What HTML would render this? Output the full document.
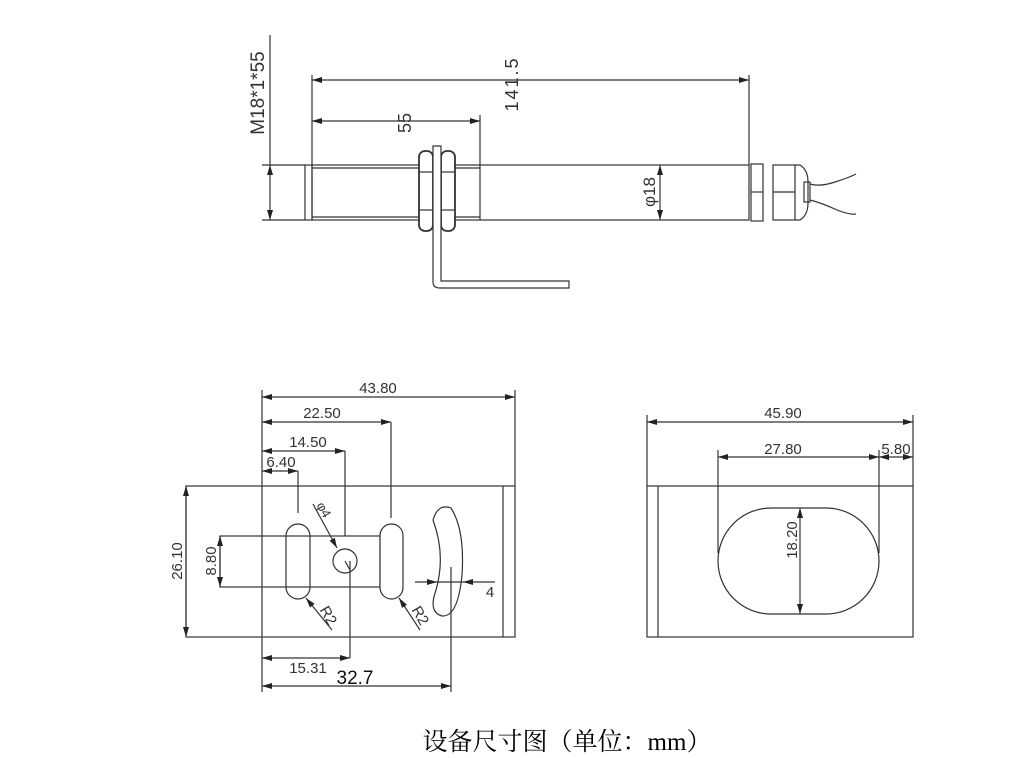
<!DOCTYPE html>
<html><head><meta charset="utf-8"><style>
html,body{margin:0;padding:0;background:#fff;width:1031px;height:758px;overflow:hidden}
svg text{font-family:"Liberation Sans",sans-serif;fill:#333}
</style></head><body>
<svg width="1031" height="758" viewBox="0 0 1031 758" xmlns="http://www.w3.org/2000/svg">
<defs>
<marker id="a" viewBox="0 0 10 6" refX="10" refY="3" markerWidth="10" markerHeight="6" markerUnits="userSpaceOnUse" orient="auto-start-reverse"><path d="M0,0L10,3L0,6z" fill="#222"/></marker>
</defs>
<g stroke="#333" stroke-width="1.2" fill="none">
<!-- top view -->
<line x1="312" y1="80" x2="749" y2="80" marker-start="url(#a)" marker-end="url(#a)"/>
<line x1="312" y1="121" x2="480" y2="121" marker-start="url(#a)" marker-end="url(#a)"/>
<line x1="312" y1="75" x2="312" y2="165"/>
<line x1="749" y1="75" x2="749" y2="165"/>
<line x1="480" y1="115" x2="480" y2="165"/>
<line x1="270" y1="35" x2="270" y2="165"/>
<line x1="262" y1="165" x2="305" y2="165"/>
<line x1="262" y1="220" x2="305" y2="220"/>
<line x1="270" y1="165" x2="270" y2="220" marker-start="url(#a)" marker-end="url(#a)"/>
<rect x="305" y="165" width="7" height="55"/>
<rect x="312" y="165" width="437" height="55"/>
<line x1="312" y1="168" x2="480" y2="168"/>
<line x1="312" y1="217" x2="480" y2="217"/>
<line x1="480" y1="165" x2="480" y2="220"/>
<line x1="660" y1="165" x2="660" y2="220" marker-start="url(#a)" marker-end="url(#a)"/>
<rect x="419" y="151" width="14" height="80" rx="6" fill="#fff" stroke-width="1.8"/>
<rect x="441" y="151" width="14" height="80" rx="6" fill="#fff" stroke-width="1.8"/>
<line x1="419" y1="172" x2="433" y2="172"/><line x1="419" y1="210" x2="433" y2="210"/>
<line x1="441" y1="172" x2="455" y2="172"/><line x1="441" y1="210" x2="455" y2="210"/>
<path d="M433,146 L433,282 Q433,288 440,288 L569,288 L569,281 L441,281 L441,146 Z" fill="#fff"/>
<rect x="751" y="164" width="12" height="57"/>
<line x1="751" y1="192" x2="763" y2="192"/>
<rect x="773" y="165" width="22" height="55"/>
<line x1="773" y1="192" x2="795" y2="192"/>
<path d="M795,165 L800,165 Q808,170 808,182 L808,203 Q808,215 800,220 L795,220"/>
<rect x="804" y="182" width="6" height="20"/>
<path d="M810,184 Q820,187 835,182 Q848,178 856,174"/>
<path d="M810,200 Q822,203 837,210 Q850,215 856,214"/>
<!-- bottom left -->
<line x1="262" y1="397" x2="515" y2="397" marker-start="url(#a)" marker-end="url(#a)"/>
<line x1="262" y1="422" x2="391" y2="422" marker-start="url(#a)" marker-end="url(#a)"/>
<line x1="262" y1="451" x2="345" y2="451" marker-start="url(#a)" marker-end="url(#a)"/>
<line x1="262" y1="471" x2="298" y2="471" marker-start="url(#a)" marker-end="url(#a)"/>
<line x1="262" y1="390" x2="262" y2="692"/>
<line x1="515" y1="390" x2="515" y2="486"/>
<line x1="391" y1="422" x2="391" y2="518"/>
<line x1="345" y1="451" x2="345" y2="536"/>
<line x1="298" y1="471" x2="298" y2="513"/>
<rect x="186" y="486" width="329" height="151"/>
<line x1="503" y1="486" x2="503" y2="637"/>
<line x1="186" y1="486" x2="186" y2="637" marker-start="url(#a)" marker-end="url(#a)"/>
<rect x="220" y="536" width="160" height="51"/>
<line x1="220" y1="536" x2="220" y2="587" marker-start="url(#a)" marker-end="url(#a)"/>
<rect x="286" y="524" width="24" height="75" rx="12"/>
<rect x="380" y="524" width="23" height="75" rx="11.5" fill="#fff"/>
<circle cx="345" cy="561" r="12"/>
<line x1="313" y1="504" x2="337" y2="548" marker-end="url(#a)"/>
<line x1="345" y1="561" x2="350" y2="570"/>
<line x1="350" y1="561" x2="350" y2="658"/>
<line x1="332" y1="630" x2="306" y2="598" marker-end="url(#a)"/>
<line x1="420" y1="630" x2="399" y2="598" marker-end="url(#a)"/>
<path d="M433,520 Q438,503 451,508 Q465,530 462,575 Q458,617 442,616 Q428,612 436,590 Q446,555 433,520 Z"/>
<line x1="415" y1="582" x2="437" y2="582" marker-end="url(#a)"/>
<line x1="437" y1="582" x2="463" y2="582"/>
<line x1="495" y1="582" x2="463" y2="582" marker-end="url(#a)"/>
<line x1="451" y1="567" x2="451" y2="692"/>
<line x1="262" y1="658" x2="350" y2="658" marker-start="url(#a)" marker-end="url(#a)"/>
<line x1="262" y1="686" x2="451" y2="686" marker-start="url(#a)" marker-end="url(#a)"/>
<!-- bottom right -->
<line x1="647" y1="422" x2="913" y2="422" marker-start="url(#a)" marker-end="url(#a)"/>
<line x1="718" y1="457" x2="879" y2="457" marker-start="url(#a)" marker-end="url(#a)"/>
<line x1="879" y1="457" x2="913" y2="457" marker-start="url(#a)" marker-end="url(#a)"/>
<line x1="647" y1="415" x2="647" y2="486"/>
<line x1="913" y1="415" x2="913" y2="486"/>
<line x1="718" y1="450" x2="718" y2="553"/>
<line x1="879" y1="450" x2="879" y2="553"/>
<rect x="647" y="486" width="266" height="151"/>
<line x1="658" y1="486" x2="658" y2="637"/>
<rect x="718" y="508" width="161" height="106" rx="53"/>
<line x1="800" y1="508" x2="800" y2="614" marker-start="url(#a)" marker-end="url(#a)"/>
</g>
<g font-size="15">
<text x="264" y="93" transform="rotate(-90 264 93)" text-anchor="middle" font-size="19">M18*1*55</text>
<text x="518" y="84" transform="rotate(-90 518 84)" text-anchor="middle" font-size="18" letter-spacing="2">141.5</text>
<text x="411" y="123" transform="rotate(-90 411 123)" text-anchor="middle" font-size="18">55</text>
<text x="655" y="192" transform="rotate(-90 655 192)" text-anchor="middle" font-size="17">φ18</text>
<text x="378" y="393" text-anchor="middle">43.80</text>
<text x="322" y="418" text-anchor="middle">22.50</text>
<text x="308" y="447" text-anchor="middle">14.50</text>
<text x="281" y="467" text-anchor="middle">6.40</text>
<text x="182" y="561" transform="rotate(-90 182 561)" text-anchor="middle">26.10</text>
<text x="216" y="561" transform="rotate(-90 216 561)" text-anchor="middle">8.80</text>
<text x="320" y="512" transform="rotate(60 320 512)" text-anchor="middle" font-size="13">φ4</text>
<text x="324" y="618" transform="rotate(60 324 618)" text-anchor="middle">R2</text>
<text x="416" y="618" transform="rotate(60 416 618)" text-anchor="middle">R2</text>
<text x="490" y="597" text-anchor="middle">4</text>
<text x="308" y="673" text-anchor="middle">15.31</text>
<text x="355" y="684" text-anchor="middle" font-size="19" style="fill:#111">32.7</text>
<text x="783" y="418" text-anchor="middle">45.90</text>
<text x="783" y="454" text-anchor="middle">27.80</text>
<text x="896" y="454" text-anchor="middle">5.80</text>
<text x="797" y="540" transform="rotate(-90 797 540)" text-anchor="middle">18.20</text>
</g>
<text x="567" y="750" text-anchor="middle" style="font-family:'Liberation Serif','Noto Serif CJK SC',serif;fill:#000" font-size="25">设备尺寸图（单位：mm）</text>
</svg>
</body></html>
